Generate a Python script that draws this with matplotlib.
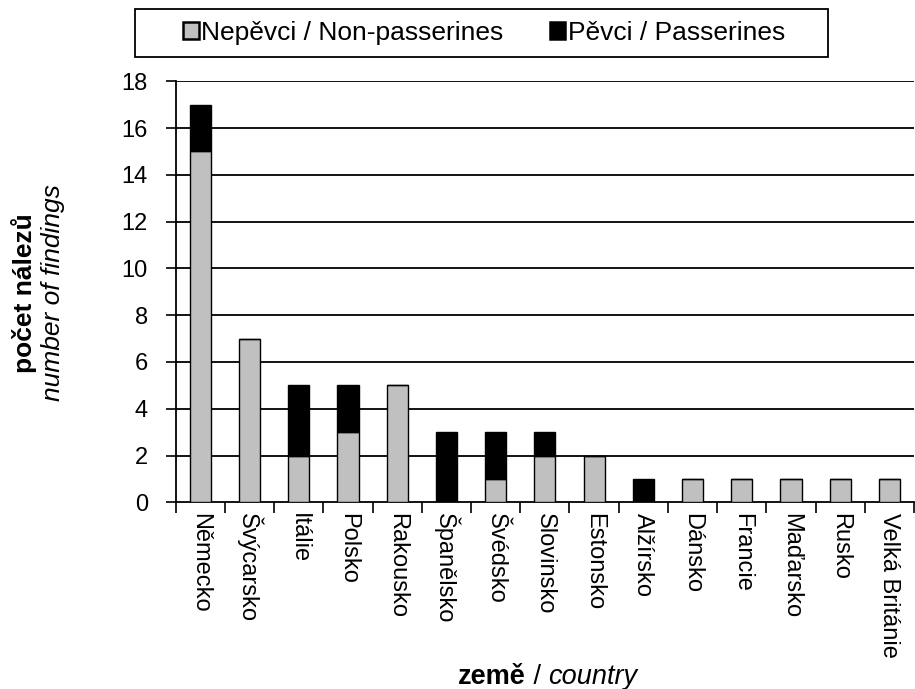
import matplotlib
matplotlib.use("Agg")
import matplotlib.pyplot as plt
from matplotlib.patches import Patch, Rectangle
import matplotlib.transforms as mtransforms
import numpy as np

countries = ["Německo", "Švýcarsko", "Itálie", "Polsko", "Rakousko", "Španělsko",
             "Švédsko", "Slovinsko", "Estonsko", "Alžírsko", "Dánsko", "Francie",
             "Maďarsko", "Rusko", "Velká Británie"]
non_passerines = [15, 7, 2, 3, 5, 0, 1, 2, 2, 0, 1, 1, 1, 1, 1]
passerines = [2, 0, 3, 2, 0, 3, 2, 1, 0, 1, 0, 0, 0, 0, 0]
yticks = [0, 2, 4, 6, 8, 10, 12, 14, 16, 18]

plt.rcParams['font.family'] = ['Liberation Sans', 'DejaVu Sans']
FS = 17
FL = 19

W, H = 915, 689
fig = plt.figure(figsize=(W / 100, H / 100), dpi=100)
ax = fig.add_axes([0.192, 0.271, 0.807, 0.611])

x = np.arange(len(countries))
w = 0.43
gray = "#c0c0c0"
ax.bar(x, non_passerines, width=w, color=gray, edgecolor="black", linewidth=1.0, zorder=3)
ax.bar(x, passerines, width=w, bottom=non_passerines, color="black", edgecolor="black",
       linewidth=1.0, zorder=3)

ax.set_xlim(-0.5, len(countries) - 0.5)
ax.set_ylim(0, 18)
ax.set_yticks(yticks)
ax.tick_params(axis='y', labelsize=FS, length=7, width=1.2, direction='out', pad=13)
for yv in yticks[1:]:
    ax.axhline(yv, color="black", linewidth=1.3, zorder=1)

ax.set_xticks(x)
ax.set_xticklabels(countries, rotation=270, fontsize=FS, va='top', ha='center')
ax.tick_params(axis='x', which='major', length=0, pad=8)
ax.set_xticks(np.arange(len(countries) + 1) - 0.5, minor=True)
ax.tick_params(axis='x', which='minor', length=8, width=1.2, direction='out')

for s in ["top", "right"]:
    ax.spines[s].set_visible(False)
for s in ["left", "bottom"]:
    ax.spines[s].set_linewidth(1.3)
    ax.spines[s].set_color("black")

# y label (two lines)
fig.text(24 / W, 1 - 293 / H, "počet nálezů", rotation=90, fontsize=FL, fontweight='bold',
         ha='center', va='center')
fig.text(53 / W, 1 - 293 / H, "number of findings", rotation=90, fontsize=FL,
         fontstyle='italic', ha='center', va='center')

# x label: "země / country" with mixed styles, centred at x=548, baseline ~685
parts = [("země", dict(fontweight='bold')), (" / ", dict()), ("country", dict(fontstyle='italic'))]
r = fig.canvas.get_renderer()
texts = []
for s, kw in parts:
    t = fig.text(0, 0, s, fontsize=19.5, ha='left', va='baseline',
                 transform=mtransforms.IdentityTransform(), **kw)
    texts.append(t)
widths = [t.get_window_extent(r).width for t in texts]
total = sum(widths)
xcur = 548 - total / 2
for t, wd in zip(texts, widths):
    t.set_position((xcur, H - 684))
    xcur += wd

handles = [Patch(facecolor=gray, edgecolor="black", linewidth=1.8),
           Patch(facecolor="black", edgecolor="black", linewidth=1.8)]
leg = fig.legend(handles, ["Nepěvci / Non-passerines", "Pěvci / Passerines"],
                 loc="center", bbox_to_anchor=(484 / W, 1 - 33 / H), ncol=2, fontsize=FL,
                 frameon=False, handlelength=0.6, handleheight=0.6,
                 handletextpad=0.08, columnspacing=1.75, borderpad=0.3, borderaxespad=0)
fig.patches.append(Rectangle((135 / W, 1 - 57 / H), (828 - 135) / W, 48 / H,
                             transform=fig.transFigure, facecolor='none',
                             edgecolor='black', linewidth=1.3))

fig.savefig("out.png", dpi=100)
